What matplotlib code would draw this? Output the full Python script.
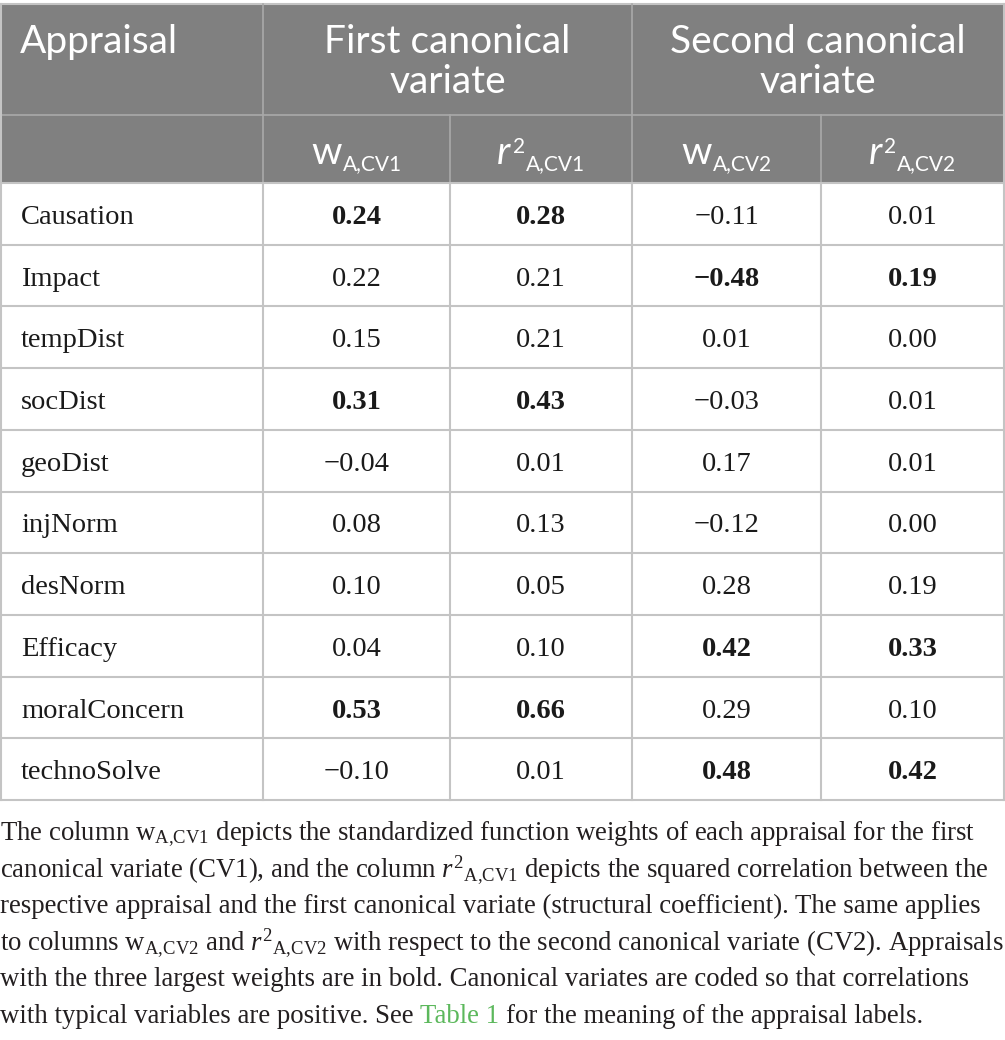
import matplotlib
matplotlib.use("Agg")
import matplotlib.pyplot as plt

# ---------------- data ----------------
appraisals = ["Causation", "Impact", "tempDist", "socDist", "geoDist",
              "injNorm", "desNorm", "Efficacy", "moralConcern", "technoSolve"]
w_cv1 = ["0.24", "0.22", "0.15", "0.31", "\u22120.04", "0.08", "0.10", "0.04", "0.53", "\u22120.10"]
r2_cv1 = ["0.28", "0.21", "0.21", "0.43", "0.01", "0.13", "0.05", "0.10", "0.66", "0.01"]
w_cv2 = ["\u22120.11", "\u22120.48", "0.01", "\u22120.03", "0.17", "\u22120.12", "0.28", "0.42", "0.29", "0.48"]
r2_cv2 = ["0.01", "0.19", "0.00", "0.01", "0.01", "0.00", "0.19", "0.33", "0.10", "0.42"]
bold_cv1 = ["Causation", "socDist", "moralConcern"]
bold_cv2 = ["Impact", "Efficacy", "technoSolve"]
group_headers = ["First canonical\nvariate", "Second canonical\nvariate"]
first_header = "Appraisal"
sub_headers = [("w", "A,CV1"), ("r", "A,CV1"), ("w", "A,CV2"), ("r", "A,CV2")]

# ---------------- style ----------------
plt.rcParams['mathtext.fontset'] = 'custom'
plt.rcParams['mathtext.rm'] = 'Liberation Serif'
plt.rcParams['mathtext.it'] = 'Liberation Serif:italic'
plt.rcParams['mathtext.bf'] = 'Liberation Serif:bold'

HEAD_BG = "#808080"
HEAD_LINE = "#a9a9a9"
GRID = "#c4c4c4"
TXT = "#1a1a1a"
SANS = "Lato"
SERIF = "Liberation Serif"
W, H = 1005, 1040

fig = plt.figure(figsize=(W / 100, H / 100), dpi=100)
ax = fig.add_axes([0, 0, 1, 1])
ax.set_xlim(0, W)
ax.set_ylim(H, 0)
ax.axis("off")
renderer = fig.canvas.get_renderer()

col_x = [0, 263, 450, 632, 821, 1004]
top = 4
h1 = 115
h2 = 183
bottom = 800
nrows = len(appraisals)
rh = (bottom - h2) / nrows

# header background
ax.add_patch(plt.Rectangle((0, top), W, h2 - top, color=HEAD_BG, lw=0, zorder=0))

# header lines
ax.plot([0, W], [top, top], color=GRID, lw=1.5, zorder=2)
ax.plot([0, W], [h1, h1], color=HEAD_LINE, lw=1.2, zorder=2)
for x in [263, 632]:
    ax.plot([x, x], [top, h2], color=HEAD_LINE, lw=1.2, zorder=2)
for x in [450, 821]:
    ax.plot([x, x], [h1, h2], color=HEAD_LINE, lw=1.2, zorder=2)
ax.plot([0.7, 0.7], [top, h2], color=GRID, lw=1.5, zorder=2)
ax.plot([W - 1, W - 1], [top, h2], color=GRID, lw=1.5, zorder=2)

# body grid
for i in range(nrows + 1):
    y = h2 + i * rh
    ax.plot([0, W], [y, y], color=GRID, lw=1.5, zorder=2)
for x in [0.7] + col_x[1:-1] + [W - 1]:
    ax.plot([x, x], [h2, bottom], color=GRID, lw=1.5, zorder=2)


def width_of(t):
    return t.get_window_extent(renderer).width


# header texts
HFS = 28
ax.text(20, 53, first_header, fontsize=HFS, family=SANS, color="white", va="baseline", ha="left")
for (x0, x1), txt in zip([(263, 632), (632, 1004)], group_headers):
    l1, l2 = txt.split("\n")
    ax.text((x0 + x1) / 2, 53, l1, fontsize=HFS, family=SANS, color="white", va="baseline", ha="center")
    ax.text((x0 + x1) / 2, 93, l2, fontsize=HFS, family=SANS, color="white", va="baseline", ha="center")


def draw_group(xc, base, pieces):
    """pieces: list of (text, fontsize, dy, style, gap)"""
    texts = []
    total = 0
    for (s, fs, dy, style, gap) in pieces:
        t = ax.text(0, base + dy, s, fontsize=fs, family=SANS, style=style,
                    color="white", va="baseline", ha="left")
        texts.append((t, gap))
        total += width_of(t) + gap
    x = xc - total / 2
    for t, gap in texts:
        t.set_x(x)
        x += width_of(t) + gap


SUBFS = 15
for j, (base_s, sub_s) in enumerate(sub_headers):
    xc = (col_x[j + 1] + col_x[j + 2]) / 2
    if base_s == "w":
        draw_group(xc, 164, [("w", HFS, 0, "normal", 1), (sub_s, SUBFS, 6, "normal", 0)])
    else:
        draw_group(xc, 164, [("r", HFS, 0, "italic", 2), ("2", SUBFS, -11, "normal", 1),
                             (sub_s, SUBFS, 6, "normal", 0)])

# body texts
DFS = 20.5
cols = [w_cv1, r2_cv1, w_cv2, r2_cv2]
bold_sets = [bold_cv1, bold_cv1, bold_cv2, bold_cv2]
for i, name in enumerate(appraisals):
    yb = h2 + i * rh + 41
    ax.text(21, yb, name, fontsize=DFS, family=SERIF, color=TXT, va="baseline", ha="left")
    for j, vals in enumerate(cols):
        xc = (col_x[j + 1] + col_x[j + 2]) / 2
        fw = "bold" if name in bold_sets[j] else "normal"
        ax.text(xc, yb, vals[i], fontsize=DFS, family=SERIF, color=TXT,
                fontweight=fw, va="baseline", ha="center")

# footnote
GREEN = "#5cb85c"
FTXT = "#231f20"
w1 = r"w${}_{\mathrm{A{,}CV1}}$"
w2 = r"w${}_{\mathrm{A{,}CV2}}$"
r1 = r"$\mathit{r}^{2}{}_{\mathrm{A{,}CV1}}$"
r2 = r"$\mathit{r}^{2}{}_{\mathrm{A{,}CV2}}$"
foot_lines = [
    [("The column " + w1 + " depicts the standardized function weights of each appraisal for the first", FTXT)],
    [("canonical variate (CV1), and the column " + r1 + " depicts the squared correlation between the", FTXT)],
    [("respective appraisal and the first canonical variate (structural coefficient). The same applies", FTXT)],
    [("to columns " + w2 + " and " + r2 + " with respect to the second canonical variate (CV2). Appraisals", FTXT)],
    [("with the three largest weights are in bold. Canonical variates are coded so that correlations", FTXT)],
    [("with typical variables are positive. See", FTXT), ("Table 1", GREEN),
     ("for the meaning of the appraisal labels.", FTXT)],
]
# choose footnote size so that the third line spans the text block width
probe = ax.text(0, 0, foot_lines[2][0][0], fontsize=20, family=SERIF)
FFS = 20 * 979 / width_of(probe)
probe.remove()

tmp1 = ax.text(0, 0, "aa", fontsize=FFS, family=SERIF)
tmp2 = ax.text(0, 0, "a a", fontsize=FFS, family=SERIF)
space_w = width_of(tmp2) - width_of(tmp1)
tmp1.remove()
tmp2.remove()

fb0 = 840
fsp = 36.6
for k, segs in enumerate(foot_lines):
    x = 0
    yb = fb0 + k * fsp
    for s, c in segs:
        t = ax.text(x, yb, s, fontsize=FFS, family=SERIF, color=c, va="baseline", ha="left")
        x += width_of(t) + space_w

fig.savefig("out.png", dpi=100)
